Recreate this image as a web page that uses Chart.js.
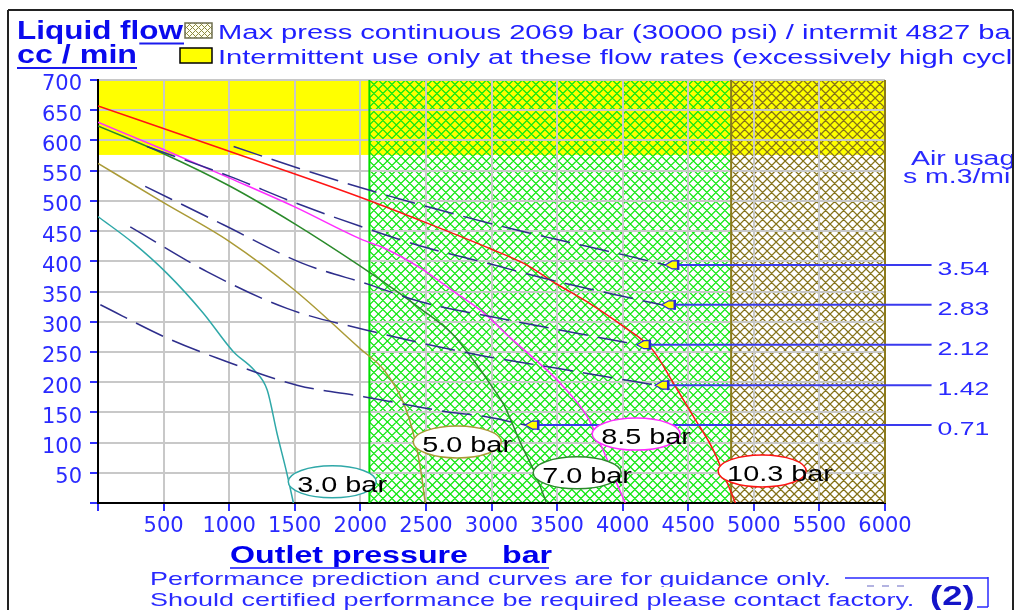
<!DOCTYPE html>
<html>
<head>
<meta charset="utf-8">
<script src="https://cdn.jsdelivr.net/npm/chart.js@4.4.1/dist/chart.umd.min.js"></script>
<style>
  body { margin: 0; background: #fff; }
  canvas { display: block; }
</style>
</head>
<body>
<canvas id="chart" width="1016" height="610"></canvas>
<script>
// liquid flow (cc/min) against outlet pressure (bar), one curve per air drive pressure
const curve30 = [[0,474],[270,430],[526,380],[800,315],[1034,250],[1190,220],[1290,187],[1365,115],[1440,49],[1490,0]];
const curve50 = [[0,562],[500,497],[1000,433],[1500,352],[2000,255],[2180,220],[2330,165],[2410,110],[2460,55],[2495,0]];
const curve70 = [[0,624],[500,578],[1000,525],[1500,462],[2000,392],[2300,347],[2450,323],[2700,280],[2860,237],[2980,200],[3100,160],[3220,100],[3330,50],[3420,0]];
const curve85 = [[0,630],[500,585],[1000,538],[1500,490],[2000,437],[2200,420],[2450,390],[2700,352],[2950,313],[3150,272],[3330,238],[3520,199],[3730,143],[3850,88],[3950,35],[4020,0]];
const curve103 = [[0,657],[1000,582],[2000,506],[2500,464],[3000,420],[3250,396],[3500,362],[3750,330],[4000,293],[4230,253],[4385,199],[4540,143],[4690,88],[4860,0]];

const driveCurves = [curve30, curve50, curve70, curve85, curve103];
const driveLabels = ['3.0 bar', '5.0 bar', '7.0 bar', '8.5 bar', '10.3 bar'];
const driveColors = ['#2fa8a8', '#aa9a36', '#2a8a2a', '#ff2bff', '#ff1414'];
// centre of each label oval, in chart units
const driveLabelAt = [[1786,35],[2739,101],[3653,50],[4103,114],[5063,53]];

// air usage (m3/min), dashed lines; last point is the arrow tip
const air354 = [[1034,590],[1500,556],[2000,522],[2500,491],[3130,455],[3500,436],[4000,411],[4324,394]];
const air283 = [[373,590],[1000,541],[1500,497],[2000,458],[2480,424],[3000,395],[3400,372],[4000,342],[4298,328]];
const air212 = [[360,524],[960,460],[1555,397],[2075,361],[2460,333],[3050,306],[3650,281],[4108,262]];
const air142 = [[246,457],[830,383],[1440,322],[2050,286],[2900,245],[3500,223],[4248,195]];
const air071 = [[18,328],[526,273],[907,240],[1517,195],[2025,176],[2630,152],[2950,143],[3257,129]];

const airCurves = [air354, air283, air212, air142, air071];
const airValues = ['3.54', '2.83', '2.12', '1.42', '0.71'];
const airLabelEnd = 6355;

const maxContinuous = 2069;
const maxIntermittent = 4827;
const intermittentFlow = 576;
const pressureMax = 6000;
const flowMax = 700;

const pts = arr => arr.map(p => ({x: p[0], y: p[1]}));

function hatch(ctx, x0, y0, x1, y1, color, step, w) {
    ctx.save();
    ctx.beginPath();
    ctx.rect(x0, y0, x1 - x0, y1 - y0);
    ctx.clip();
    ctx.strokeStyle = color;
    ctx.lineWidth = w || 1;
    ctx.beginPath();
    const h = y1 - y0;
    for (let x = x0 - h; x < x1 + h; x += step) {
        ctx.moveTo(x, y0); ctx.lineTo(x + h, y1);
        ctx.moveTo(x, y1); ctx.lineTo(x + h, y0);
    }
    ctx.stroke();
    ctx.restore();
}

function txt(ctx, str, x, y, font, color, sx) {
    ctx.save();
    ctx.font = font;
    ctx.fillStyle = color;
    ctx.textBaseline = 'alphabetic';
    ctx.translate(x, y);
    ctx.scale(sx, 1);
    ctx.fillText(str, 0, 0);
    ctx.restore();
}

function line(ctx, x0, y0, x1, y1, color, w) {
    ctx.beginPath();
    ctx.moveTo(x0, y0);
    ctx.lineTo(x1, y1);
    ctx.strokeStyle = color;
    ctx.lineWidth = w;
    ctx.stroke();
}

function arrow(ctx, x, y) {
    ctx.beginPath();
    ctx.moveTo(x, y);
    ctx.lineTo(x + 7, y - 4);
    ctx.lineTo(x + 13, y - 4);
    ctx.lineTo(x + 13, y + 4);
    ctx.lineTo(x + 7, y + 4);
    ctx.closePath();
    ctx.fillStyle = '#ffff00';
    ctx.fill();
    ctx.strokeStyle = '#2a2ad0';
    ctx.lineWidth = 1.2;
    ctx.stroke();
    line(ctx, x + 13, y - 5, x + 13, y + 5, '#2a2ad0', 2.5);
}

const decor = {
    id: 'decor',
    beforeDraw(chart) {
        const {ctx, scales: {x, y}} = chart;
        ctx.save();
        ctx.fillStyle = '#fff';
        ctx.fillRect(0, 0, chart.width, chart.height);
        const xl = x.getPixelForValue(0), xr = x.getPixelForValue(pressureMax);
        const xc = x.getPixelForValue(maxContinuous), xi = x.getPixelForValue(maxIntermittent);
        const yt = y.getPixelForValue(flowMax), yb = y.getPixelForValue(0);
        const yi = y.getPixelForValue(intermittentFlow);
        ctx.fillStyle = '#ffff00';
        ctx.fillRect(xl, yt, xr - xl, yi - yt);
        hatch(ctx, xc, yt, xi, yb, '#10e810', 9, 1.3);
        hatch(ctx, xi, yt, xr, yb, '#85731a', 9, 1.3);
        ctx.restore();
    },
    beforeDatasetsDraw(chart) {
        const {ctx, scales: {x, y}} = chart;
        ctx.save();
        const yt = y.getPixelForValue(flowMax), yb = y.getPixelForValue(0);
        const xc = x.getPixelForValue(maxContinuous);
        const xi = x.getPixelForValue(maxIntermittent);
        const xr = x.getPixelForValue(pressureMax);
        line(ctx, xc, yt, xc, yb, '#00dd00', 2);
        line(ctx, xi, yt, xi, yb, '#8c7a1c', 2);
        line(ctx, xr, yt, xr, yb, '#8c7a1c', 2);
        ctx.restore();
    },
    afterDraw(chart) {
        const {ctx, scales: {x, y}} = chart;
        ctx.save();

        // label ovals on the drive pressure curves
        driveLabels.forEach((lab, i) => {
            const cx = x.getPixelForValue(driveLabelAt[i][0]);
            const cy = y.getPixelForValue(driveLabelAt[i][1]);
            ctx.beginPath();
            ctx.ellipse(cx, cy, 44, 16, 0, 0, Math.PI * 2);
            ctx.fillStyle = '#fff';
            ctx.fill();
            ctx.strokeStyle = driveColors[i];
            ctx.lineWidth = 1.5;
            ctx.stroke();
            txt(ctx, lab, cx - 35, cy + 10, '22px "Liberation Sans"', '#000', 1.31);
        });

        ctx.beginPath();
        ctx.rect(0, 0, 1012, 610);
        ctx.clip();

        // arrows and air usage values
        airCurves.forEach((c, i) => {
            const tip = c[c.length - 1];
            const px = x.getPixelForValue(tip[0]), py = y.getPixelForValue(tip[1]);
            arrow(ctx, px, py);
            txt(ctx, airValues[i], x.getPixelForValue(airLabelEnd) + 6, py + 10, '19px "Liberation Sans"', '#2a2aff', 1.4);
        });
        txt(ctx, 'Air usage', 911, 165, '20px "Liberation Sans"', '#2a2aff', 1.42);
        txt(ctx, 's m.3/min', 903, 183, '20px "Liberation Sans"', '#2a2aff', 1.42);

        // title
        const titleFont = 'bold 26px "Liberation Sans"';
        txt(ctx, 'Liquid flow', 17, 39, titleFont, '#0a0aee', 1.21);
        ctx.font = titleFont;
        const owStart = 17 + ctx.measureText('Liquid fl').width * 1.21;
        line(ctx, owStart, 43.5, 184, 43.5, '#1a1aee', 2);
        txt(ctx, 'cc / min', 17, 63, titleFont, '#0a0aee', 1.24);
        line(ctx, 17, 68, 137, 68, '#1a1aee', 2);

        // legend
        ctx.fillStyle = '#fffff0';
        ctx.fillRect(185, 23, 27, 15);
        hatch(ctx, 185, 23, 212, 38, '#8c8a40', 6);
        ctx.strokeStyle = '#6f6f50';
        ctx.lineWidth = 1.5;
        ctx.strokeRect(185, 23, 27, 15);
        ctx.fillStyle = '#ffff00';
        ctx.fillRect(180, 48, 32, 15);
        ctx.strokeStyle = '#000';
        ctx.strokeRect(180, 48, 32, 15);
        txt(ctx, 'Max press continuous 2069 bar (30000 psi) / intermit 4827 bar', 218, 39, '20px "Liberation Sans"', '#2020ff', 1.455);
        txt(ctx, 'Intermittent use only at these flow rates (excessively high cycle rates)', 218, 64, '20px "Liberation Sans"', '#2020ff', 1.455);

        // axis title
        const axFont = 'bold 23px "Liberation Sans"';
        txt(ctx, 'Outlet pressure', 230, 563, axFont, '#0000ee', 1.4);
        txt(ctx, 'bar', 502, 563, axFont, '#0000ee', 1.4);
        line(ctx, 230, 568, 549, 568, '#4a4aff', 2);

        // footer
        ctx.save();
        ctx.beginPath();
        ctx.rect(0, 0, 1012, 587);
        ctx.clip();
        txt(ctx, 'Performance prediction and curves are for guidance only.', 150, 585, '19px "Liberation Sans"', '#2a2aff', 1.415);
        ctx.restore();
        txt(ctx, 'Should certified performance be required please contact factory.', 150, 606, '19px "Liberation Sans"', '#2a2aff', 1.42);
        line(ctx, 845, 578, 988, 578, '#2a2aff', 1.5);
        line(ctx, 988, 577, 988, 607, '#2a2aff', 1.5);
        line(ctx, 977, 607, 988, 607, '#2a2aff', 1.5);
        ctx.setLineDash([7, 8]);
        line(ctx, 867, 586, 912, 586, '#9a9ad8', 1.5);
        ctx.setLineDash([]);
        txt(ctx, '(2)', 930, 605, 'bold 27px "Liberation Sans"', '#1414c8', 1.35);
        ctx.restore();

        // frame
        ctx.save();
        line(ctx, 8, 10, 1013, 10, '#222', 2);
        line(ctx, 8, 10, 8, 610, '#222', 2);
        line(ctx, 1013, 10, 1013, 610, '#222', 2);
        ctx.restore();
    }
};

const datasets = [];
airCurves.forEach(c => {
    datasets.push({
        data: pts(c),
        borderColor: '#2e2e8c',
        borderWidth: 1.5,
        borderDash: [30, 10],
        cubicInterpolationMode: 'monotone'
    });
    const tip = c[c.length - 1];
    datasets.push({
        data: pts([tip, [airLabelEnd, tip[1]]]),
        borderColor: '#3a3aee',
        borderWidth: 2,
        clip: false
    });
});
driveCurves.forEach((c, i) => {
    datasets.push({
        data: pts(c),
        borderColor: driveColors[i],
        borderWidth: 1.5,
        cubicInterpolationMode: 'monotone'
    });
});
datasets.forEach(d => {
    d.showLine = true;
    d.pointRadius = 0;
    d.fill = false;
});

const tickFont = {family: 'DejaVu Sans', size: 21};

new Chart(document.getElementById('chart').getContext('2d'), {
    type: 'scatter',
    data: {datasets: datasets},
    options: {
        responsive: false,
        animation: false,
        events: [],
        layout: {padding: {left: 0, top: 80, right: 131, bottom: 0}},
        plugins: {legend: {display: false}, tooltip: {enabled: false}},
        scales: {
            x: {
                type: 'linear',
                min: 0,
                max: pressureMax,
                afterFit: s => { s.height = 107; },
                ticks: {
                    stepSize: 500,
                    autoSkip: false,
                    maxRotation: 0,
                    padding: 3,
                    color: '#2a2aff',
                    font: tickFont,
                    callback: v => v === 0 ? '' : v
                },
                grid: {color: '#c8c8c8', lineWidth: 2, tickColor: '#3030ff', tickLength: 8, tickWidth: 2},
                border: {color: '#000', width: 2}
            },
            y: {
                type: 'linear',
                min: 0,
                max: flowMax,
                afterFit: s => { s.width = 98; },
                ticks: {
                    stepSize: 50,
                    autoSkip: false,
                    padding: 8,
                    labelOffset: 5,
                    color: '#2a2aff',
                    font: tickFont,
                    callback: v => v === 0 ? '' : v
                },
                grid: {color: '#c8c8c8', lineWidth: 2, tickColor: '#3030ff', tickLength: 8, tickWidth: 2},
                border: {color: '#000', width: 2}
            }
        }
    },
    plugins: [decor]
});
</script>
</body>
</html>
